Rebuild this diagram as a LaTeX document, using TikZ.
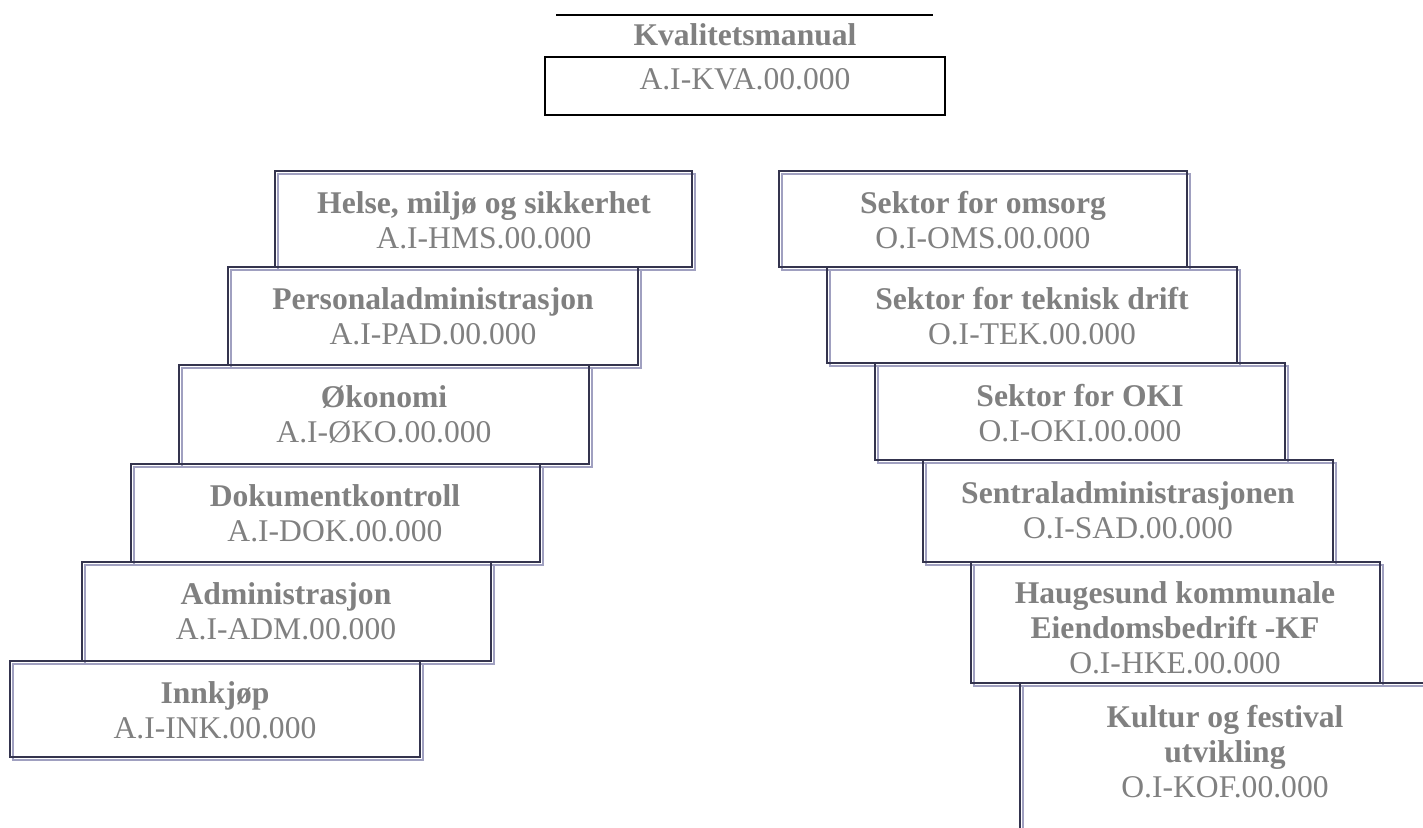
\documentclass[tikz,border=0pt]{standalone}
\usepackage{fontspec}
\setmainfont{Liberation Serif}
\definecolor{framedark}{RGB}{52,52,78}
\definecolor{framelight}{RGB}{160,160,192}
\definecolor{labelgray}{RGB}{128,128,128}
\tikzset{
  secframe/.style={draw=framedark, line width=1.2pt},
  secshade/.style={draw=framelight, line width=1.2pt},
  boxtext/.style={anchor=north, inner sep=0pt, align=center, text=labelgray,
    font=\fontsize{15.8}{17.5}\selectfont},
}
% left, right, top, bottom
\newcommand{\secbox}[4]{%
  \draw[secshade] (#1+3,#3+3) rectangle (#2+3,#4+3);
  \draw[secframe] (#1,#3) rectangle (#2,#4);}
\begin{document}
\begin{tikzpicture}[x=0.5pt, y=-0.5pt]
  \useasboundingbox (0,0) rectangle (1423,827);
  \clip (0,0) rectangle (1423,827);

  % top of the manual
  \draw[black, line width=1pt] (556,15) -- (933,15);
  \node[boxtext, anchor=center] (kvatitle) at (745,35) {\bfseries Kvalitetsmanual};
  \draw[black, line width=1.4pt] (545,57) rectangle (945,115);
  \node[boxtext, anchor=center] (kva) at (745,79) {A.I-KVA.00.000};

  % left stair
  \secbox{275}{692}{171}{267}
  \secbox{228}{638}{267}{365}
  \secbox{179}{589}{365}{464}
  \secbox{131}{540}{464}{562}
  \secbox{82}{491}{562}{661}
  \secbox{10}{420}{661}{757}

  % right stair
  \secbox{779}{1187}{171}{267}
  \secbox{827}{1237}{267}{363}
  \secbox{875}{1285}{363}{460}
  \secbox{923}{1333}{460}{562}
  \secbox{971}{1380}{562}{683}
  \secbox{1020}{1430}{683}{900}

  \node[boxtext] (hms) at (484,191) {\textbf{Helse, miljø og sikkerhet}\\A.I-HMS.00.000};
  \node[boxtext] (pad) at (433,287) {\textbf{Personaladministrasjon}\\A.I-PAD.00.000};
  \node[boxtext] (oko) at (384,385) {\textbf{Økonomi}\\A.I-ØKO.00.000};
  \node[boxtext] (dok) at (335,484) {\textbf{Dokumentkontroll}\\A.I-DOK.00.000};
  \node[boxtext] (adm) at (286,582) {\textbf{Administrasjon}\\A.I-ADM.00.000};
  \node[boxtext] (ink) at (215,681) {\textbf{Innkjøp}\\A.I-INK.00.000};

  \node[boxtext] (oms) at (983,191) {\textbf{Sektor for omsorg}\\O.I-OMS.00.000};
  \node[boxtext] (tek) at (1032,287) {\textbf{Sektor for teknisk drift}\\O.I-TEK.00.000};
  \node[boxtext] (oki) at (1080,384) {\textbf{Sektor for OKI}\\O.I-OKI.00.000};
  \node[boxtext] (sad) at (1128,481) {\textbf{Sentraladministrasjonen}\\O.I-SAD.00.000};
  \node[boxtext] (hke) at (1175,581)
    {\textbf{Haugesund kommunale}\\\textbf{Eiendomsbedrift -KF}\\O.I-HKE.00.000};
  \node[boxtext] (kof) at (1225,705)
    {\textbf{Kultur og festival}\\\textbf{utvikling}\\O.I-KOF.00.000};
\end{tikzpicture}
\end{document}
